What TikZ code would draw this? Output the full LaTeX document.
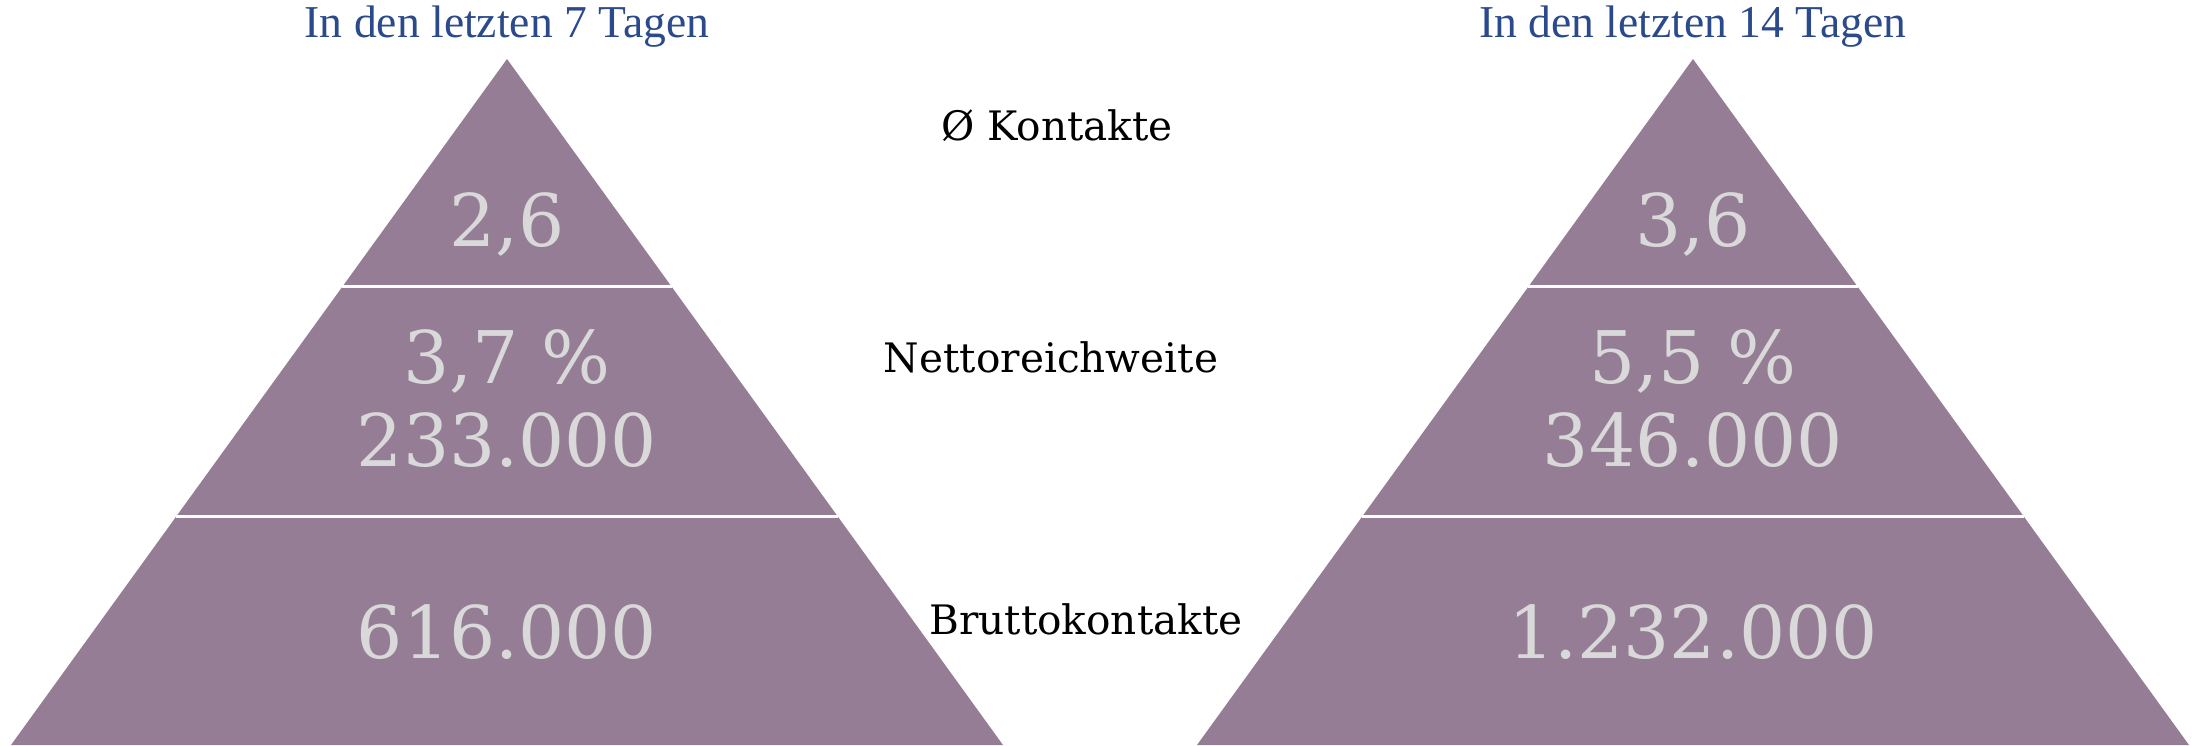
\documentclass[tikz,border=0pt]{standalone}
\usepackage{fontspec}
\usetikzlibrary{calc}
\setmainfont{DejaVu Serif}
\newfontfamily\titlefont{Liberation Serif}
\definecolor{pyrfill}{HTML}{957E95}
\definecolor{numgray}{HTML}{D9D9D9}
\definecolor{headblue}{HTML}{2B4A8C}
\tikzset{
  layer/.style={fill=pyrfill, draw=none},
  cut/.style={draw=white, line width=1.5pt},
  num/.style={text=numgray, font=\fontsize{36.3}{38}\selectfont, inner sep=0pt},
  lab/.style={font=\fontsize{20.3}{22}\selectfont, inner sep=0pt},
  head/.style={text=headblue, font=\titlefont\fontsize{22.8}{24}\selectfont, inner sep=0pt}
}
\begin{document}
\begin{tikzpicture}[x=0.5pt, y=-0.5pt]
  \useasboundingbox (0,0) rectangle (2192,745);
  % left pyramid
  \coordinate (la) at (507,59);
  \coordinate (lbl) at (11,745);
  \coordinate (lbr) at (1003,745);
  \fill[layer] (la) -- (lbl) -- (lbr) -- cycle;
  \draw[cut] ($(la)!0.332!(lbl)$) -- ($(la)!0.332!(lbr)$);
  \draw[cut] ($(la)!0.667!(lbl)$) -- ($(la)!0.667!(lbr)$);
  % right pyramid
  \coordinate (ra) at (1693,59);
  \coordinate (rbl) at (1197,745);
  \coordinate (rbr) at (2189,745);
  \fill[layer] (ra) -- (rbl) -- (rbr) -- cycle;
  \draw[cut] ($(ra)!0.332!(rbl)$) -- ($(ra)!0.332!(rbr)$);
  \draw[cut] ($(ra)!0.667!(rbl)$) -- ($(ra)!0.667!(rbr)$);
  % headings
  \node[head] (lhead) at (507,27) {In den letzten 7 Tagen};
  \node[head] (rhead) at (1693,27) {In den letzten 14 Tagen};
  % values
  \node[num] (lk) at (507,224) {2,6};
  \node[num] (lp) at (507,361) {3,7 \%};
  \node[num] (ln) at (507,440) {233.000};
  \node[num] (lb) at (507,632) {616.000};
  \node[num] (rk) at (1693,224) {3,6};
  \node[num] (rp) at (1693,361) {5,5 \%};
  \node[num] (rn) at (1693,440) {346.000};
  \node[num] (rb) at (1693,632) {1.232.000};
  % row labels
  \node[lab] (kontakte) at (1057,126) {Ø Kontakte};
  \node[lab] (netto) at (1051,357) {Nettoreichweite};
  \node[lab] (brutto) at (1086,619) {Bruttokontakte};
\end{tikzpicture}
\end{document}
